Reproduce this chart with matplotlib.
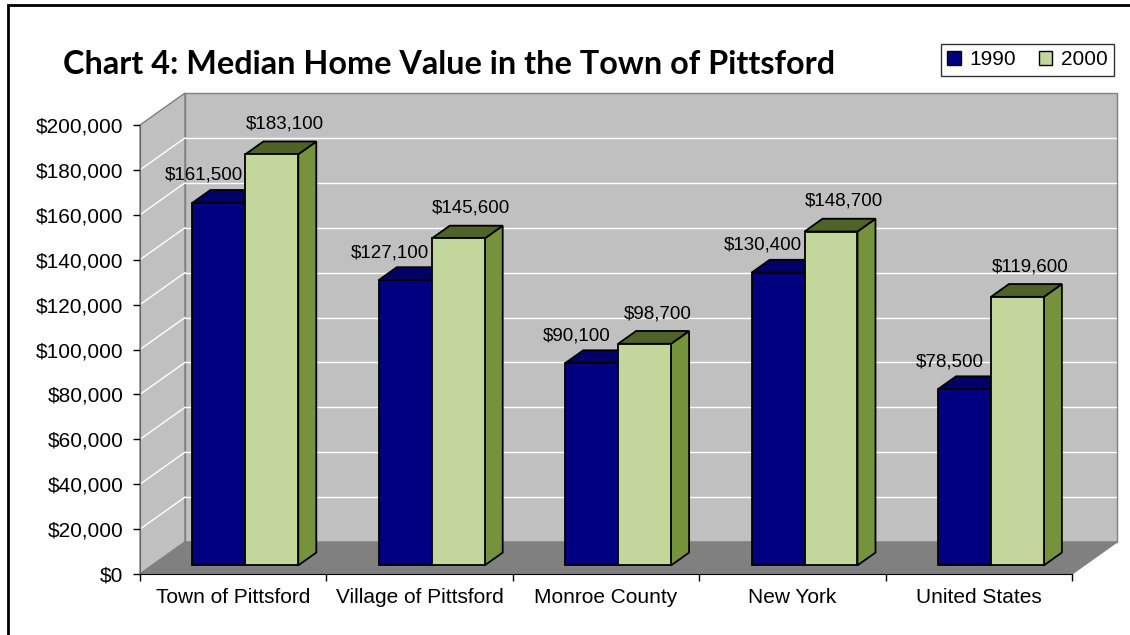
import matplotlib
matplotlib.use("Agg")
import matplotlib.pyplot as plt
from matplotlib.patches import Polygon, Patch, Rectangle
from matplotlib.ticker import FuncFormatter

categories = ["Town of Pittsford", "Village of Pittsford", "Monroe County",
              "New York", "United States"]
values_1990 = [161500, 127100, 90100, 130400, 78500]
values_2000 = [183100, 145600, 98700, 148700, 119600]
series_names = ["1990", "2000"]
y_ticks = [0, 20000, 40000, 60000, 80000, 100000, 120000, 140000,
           160000, 180000, 200000]

plt.rcParams["font.family"] = ["Liberation Sans", "DejaVu Sans"]

W, H = 1130, 635
YMAX = 200000
n = len(categories)
# depth of the 3d box, in data units
DX = 45 / 186.4
DY = 32 / 449 * YMAX
BAR_W = 0.284
D0, D1 = 0.27, 0.67

colors = {
    "1990": ("#000080", "#000066", "#00005a"),
    "2000": ("#c3d69b", "#4f6228", "#76923c"),
}

fig = plt.figure(figsize=(W / 100, H / 100), dpi=100)
ax = fig.add_axes([140 / W, (H - 574) / H, (1117 - 140) / W, (574 - 93) / H])
ax.set_xlim(0, n + DX)
ax.set_ylim(0, YMAX + DY)
ax.patch.set_visible(False)


def shift(x, y, d):
    return (x + d * DX, y + d * DY)


def poly(pts, fc, ec, z, lw=1.0):
    ax.add_patch(Polygon(pts, closed=True, facecolor=fc, edgecolor=ec,
                         linewidth=lw, zorder=z, clip_on=False))


# walls and floor
wall_c, floor_c, edge_c = "#c0c0c0", "#808080", "#808080"
poly([(0, 0), (DX, DY), (DX, YMAX + DY), (0, YMAX)], wall_c, edge_c, 1)
poly([(DX, DY), (n + DX, DY), (n + DX, YMAX + DY), (DX, YMAX + DY)],
     wall_c, edge_c, 1)
for v in y_ticks[1:-1]:
    ax.plot([0, DX], [v, v + DY], color="white", lw=1, zorder=1.5)
    ax.plot([DX, n + DX], [v + DY, v + DY], color="white", lw=1, zorder=1.5)
poly([(0, 0), (n, 0), (n + DX, DY), (DX, DY)], floor_c, edge_c, 2)


def bar3d(x0, h, name):
    front, top, side = colors[name]
    x1 = x0 + BAR_W
    poly([shift(x1, 0, D0), shift(x1, 0, D1), shift(x1, h, D1),
          shift(x1, h, D0)], side, "black", 4, 1.3)
    poly([shift(x0, h, D0), shift(x1, h, D0), shift(x1, h, D1),
          shift(x0, h, D1)], top, "black", 4, 1.3)
    poly([shift(x0, 0, D0), shift(x1, 0, D0), shift(x1, h, D0),
          shift(x0, h, D0)], front, "black", 4, 1.3)


for i in range(n):
    c = i + 0.5
    bar3d(c - BAR_W, values_1990[i], "1990")
    bar3d(c, values_2000[i], "2000")
    ax.annotate("${:,}".format(values_1990[i]), xy=(c - BAR_W / 2, values_1990[i]),
                xytext=(-2, 26), textcoords="offset points", ha="center",
                va="center", fontsize=13.5, zorder=10)
    ax.annotate("${:,}".format(values_2000[i]), xy=(c + BAR_W / 2, values_2000[i]),
                xytext=(18, 28), textcoords="offset points", ha="center",
                va="center", fontsize=13.5, zorder=10)

# axes
for s in ["top", "right"]:
    ax.spines[s].set_visible(False)
ax.spines["left"].set_bounds(0, YMAX)
ax.spines["left"].set_color("#666666")
ax.spines["bottom"].set_bounds(0, n)
ax.spines["bottom"].set_color("black")
ax.spines["left"].set_zorder(5)
ax.spines["bottom"].set_zorder(5)

ax.set_yticks(y_ticks)
ax.yaxis.set_major_formatter(FuncFormatter(lambda v, p: "${:,.0f}".format(v)))
ax.tick_params(axis="y", length=5, width=1, labelsize=15, pad=7)
ax.set_xticks(range(n + 1))
ax.set_xticklabels([])
ax.set_xticks([i + 0.5 for i in range(n)], minor=True)
ax.set_xticklabels(categories, minor=True)
ax.tick_params(axis="x", which="major", length=5, width=1)
ax.tick_params(axis="x", which="minor", length=0, labelsize=15, pad=10)

fig.text(63 / W, 1 - 74 / H, "Chart 4: Median Home Value in the Town of Pittsford",
         fontsize=23.3, fontweight="bold", family=["Lato", "DejaVu Sans"],
         ha="left", va="baseline")

handles = [Patch(facecolor=colors[s][0], edgecolor="black") for s in series_names]
leg = fig.legend(handles, series_names, ncol=2, loc="upper left",
                 bbox_to_anchor=(941 / W, 1 - 44 / H), fontsize=15,
                 frameon=True, fancybox=False, edgecolor="black",
                 handlelength=0.65, handleheight=0.65, handletextpad=0.4,
                 columnspacing=1.1, borderpad=0.3, borderaxespad=0)
leg.get_frame().set_linewidth(1)

fig.add_artist(Rectangle((8 / W, -0.1), 1.2, 1.1 - 5 / H, transform=fig.transFigure,
                         fill=False, edgecolor="black", linewidth=2))

fig.savefig("out.png", dpi=100)
